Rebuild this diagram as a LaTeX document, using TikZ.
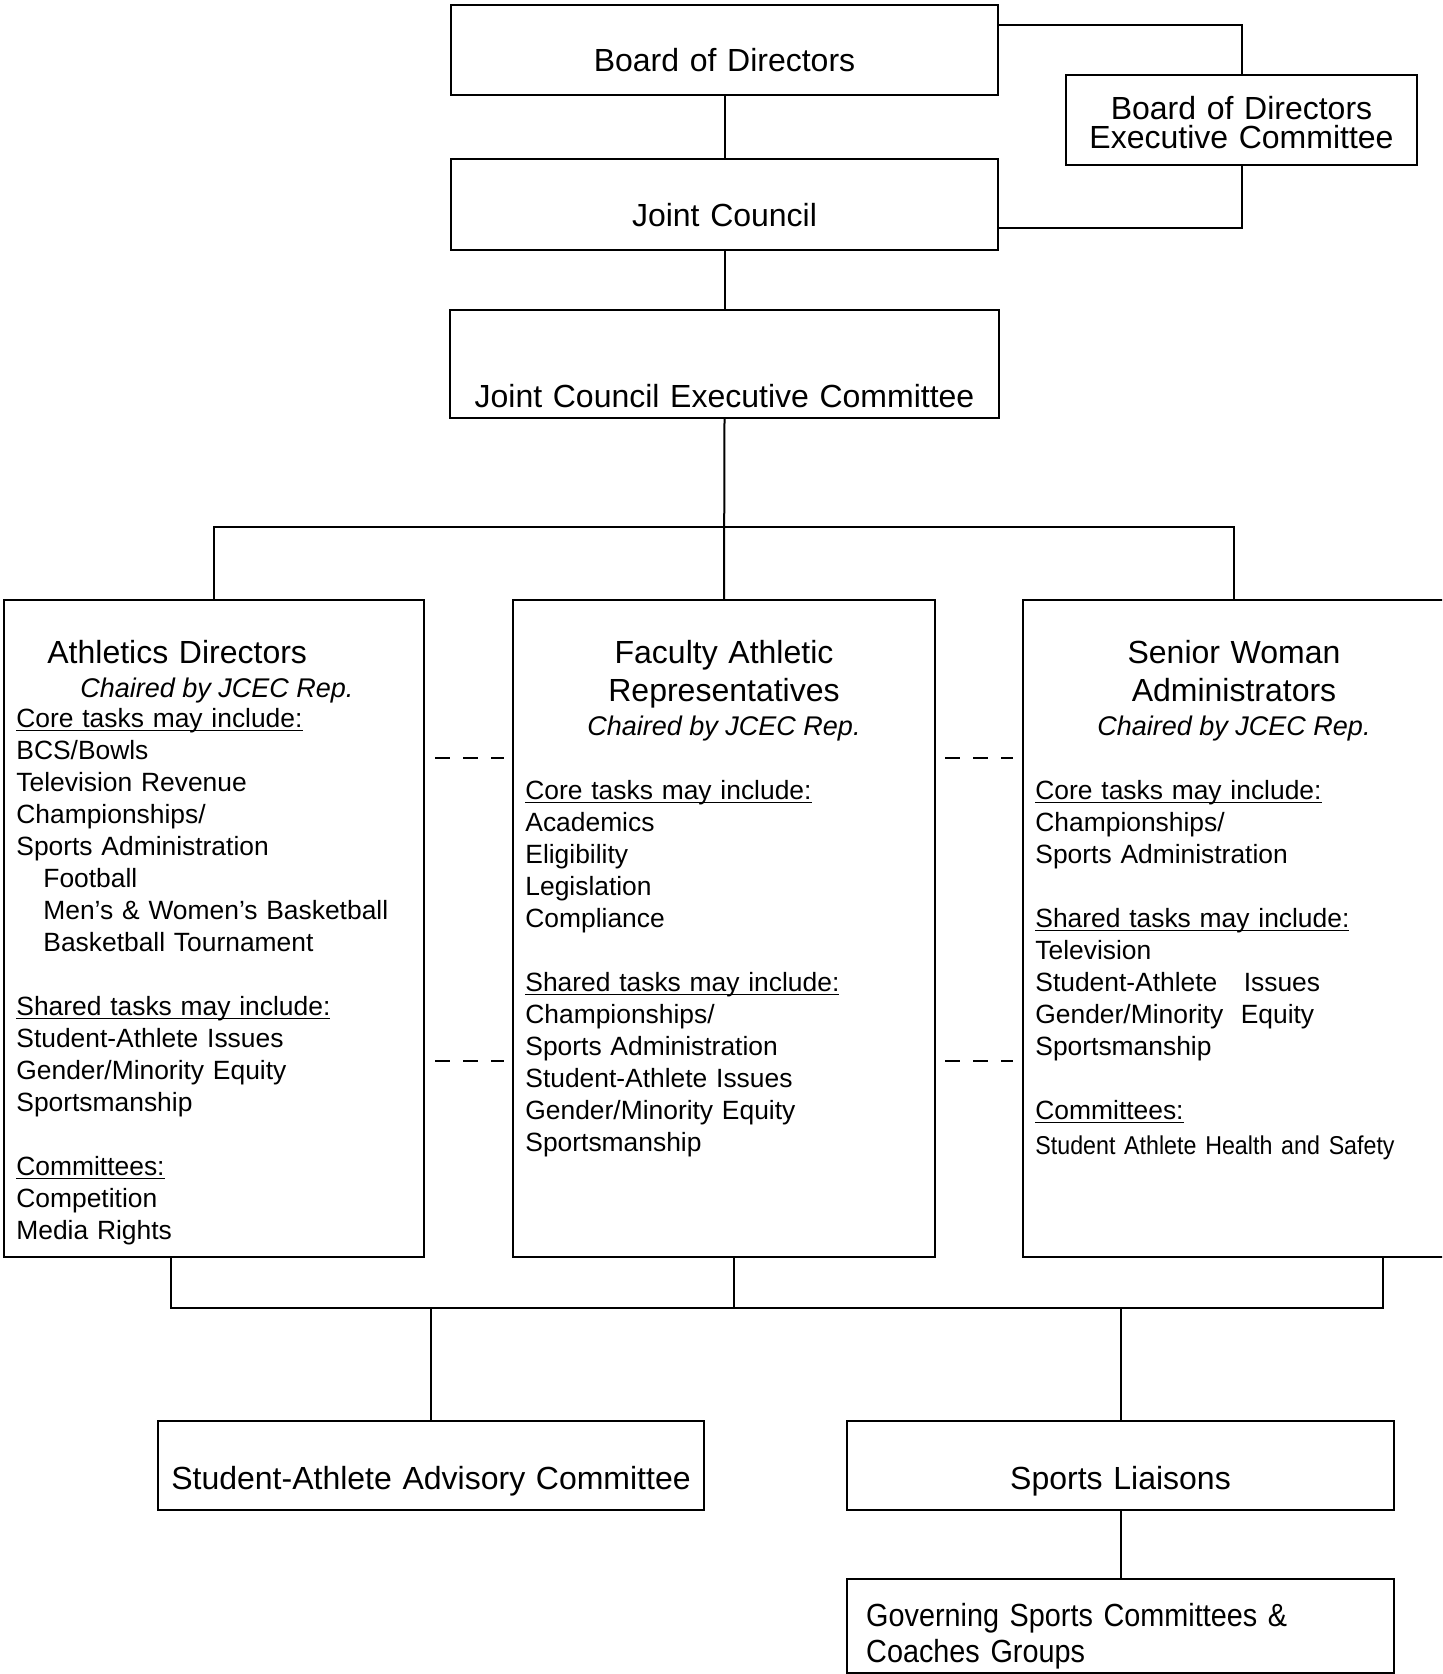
\documentclass[tikz,border=0pt]{standalone}
\usepackage{fontspec}
\setmainfont{Liberation Sans}
\newfontfamily\narrowfont{Liberation Sans}[FakeStretch=0.9]
\newsavebox\ulsave
\newcommand{\ulhead}[1]{\leavevmode\sbox\ulsave{#1}\rlap{\rule[-2pt]{\wd\ulsave}{0.65pt}}\usebox\ulsave}

\begin{document}
\begin{tikzpicture}[x=0.5pt,y=-0.5pt,
        box/.style={draw,line width=1.2pt,inner sep=0pt},
        link/.style={line width=1pt},
        dashlink/.style={line width=1pt,dash pattern=on 7.5pt off 6.5pt},
        title/.style={font=\fontsize{16}{14.5}\selectfont,text width=270pt,align=center,inner sep=0pt,anchor=base},
        head/.style={font=\fontsize{16}{19.2}\selectfont,text width=200pt,align=center,inner sep=0pt,anchor=base},
        chair/.style={font=\fontsize{13.5}{16}\selectfont\itshape,inner sep=0pt,anchor=base},
        tasks/.style={font=\fontsize{13.2}{16}\selectfont,text width=200pt,align=left,inner sep=0pt,anchor=base west}]

    \clip (0,0) rectangle (1442,1674);

    % top of the chart
    \node[box,minimum width=273.5pt,minimum height=45pt] (bod) at (724.5,50) {};
    \node[box,minimum width=175.5pt,minimum height=45pt] (bodec) at (1241.5,120) {};
    \node[box,minimum width=273.5pt,minimum height=45.5pt] (jc) at (724.5,204.5) {};
    \node[box,minimum width=274.5pt,minimum height=54pt] (jcec) at (724.5,364) {};

    % the three groups
    \node[box,minimum width=210pt,minimum height=328.5pt] (ad) at (214,928.5) {};
    \node[box,minimum width=211pt,minimum height=328.5pt] (far) at (724,928.5) {};
    \node[box,minimum width=210.5pt,minimum height=328.5pt] (swa) at (1233.5,928.5) {};

    % bottom row
    \node[box,minimum width=273pt,minimum height=44.5pt] (saac) at (431,1465.5) {};
    \node[box,minimum width=273.5pt,minimum height=44.5pt] (sl) at (1120.5,1465.5) {};
    \node[box,minimum width=273.5pt,minimum height=47pt] (gsc) at (1120.5,1626) {};

    % box texts
    \node[title] (bodtxt) at ([yshift=-11pt]bod.center) {Board of Directors};
    \node[title] (bodectxt) at (bodec.center) {Board of Directors\\Executive Committee};
    \node[title] (jctxt) at ([yshift=-11pt]jc.center) {Joint Council};
    \node[title] (jcectxt) at ([yshift=-22pt]jcec.center) {Joint Council Executive Committee};

    \node[head,anchor=base west,align=left] (adhead) at (47,663) {Athletics Directors};
    \node[chair,anchor=base west] (adchair) at (80,697) {Chaired by JCEC Rep.};
    \node[tasks] (adtasks) at (16,727) {\ulhead{Core tasks may include:}\\
        BCS/Bowls\\
        Television Revenue\\
        Championships/\\
        Sports Administration\\
        \hspace*{13.5pt}Football\\
        \hspace*{13.5pt}Men’s \& Women’s Basketball\\
        \hspace*{13.5pt}Basketball Tournament\\[16pt]
        \ulhead{Shared tasks may include:}\\
        Student-Athlete Issues\\
        Gender/Minority Equity\\
        Sportsmanship\\[16pt]
        \ulhead{Committees:}\\
        Competition\\
        Media Rights};

    \node[head] (farhead) at (724,663) {Faculty Athletic\\Representatives};
    \node[chair] (farchair) at (724,735) {Chaired by JCEC Rep.};
    \node[tasks] (fartasks) at (525,799) {\ulhead{Core tasks may include:}\\
        Academics\\
        Eligibility\\
        Legislation\\
        Compliance\\[16pt]
        \ulhead{Shared tasks may include:}\\
        Championships/\\
        Sports Administration\\
        Student-Athlete Issues\\
        Gender/Minority Equity\\
        Sportsmanship};

    \node[head] (swahead) at (1234,663) {Senior Woman\\Administrators};
    \node[chair] (swachair) at (1234,735) {Chaired by JCEC Rep.};
    \node[tasks] (swatasks) at (1035,799) {\ulhead{Core tasks may include:}\\
        Championships/\\
        Sports Administration\\[16pt]
        \ulhead{Shared tasks may include:}\\
        Television\\
        Student-Athlete\ \ \ Issues\\
        Gender/Minority\ \ Equity\\
        Sportsmanship\\[16pt]
        \ulhead{Committees:}\\[1.6pt]
        {\narrowfont\fontsize{12.9}{16}\selectfont Student Athlete Health and Safety}};

    \node[title] (saactxt) at ([yshift=-11.75pt]saac.center) {Student-Athlete Advisory Committee};
    \node[title] (sltxt) at ([yshift=-11.75pt]sl.center) {Sports Liaisons};
    \node[title,anchor=base west,align=left,font=\narrowfont\fontsize{16}{18}\selectfont] (gsctxt) at ([xshift=10pt]gsc.west) {Governing Sports Committees \&\\Coaches Groups};

    % connectors
    \draw[link] (bod) -- (jc);
    \draw[link] ([yshift=12.5pt]bod.east) -| (bodec.north);
    \draw[link] (bodec.south) |- ([yshift=-11.75pt]jc.east);
    \draw[link] (jc) -- (jcec);
    \coordinate (topbus) at (724,527);
    \draw[link] (jcec.south) -- (far.north);
    \draw[link] (ad.north) |- (topbus) -| (swa.north);
    \coordinate (botbus) at (724,1308);
    \draw[link] ([xshift=-21.5pt]ad.south) |- (botbus) -| ([xshift=74.75pt]swa.south);
    \draw[link] ([xshift=5pt]far.south) |- (botbus);
    \draw[link] (saac.north) |- (botbus);
    \draw[link] (sl.north) |- (botbus);
    \draw[link] (sl) -- (gsc);

    % dashed links between the groups
    \foreach \dy in {85.25pt,-66.25pt}{
        \draw[dashlink] ([shift={(5pt,\dy)}]ad.east) -- ([shift={(-4pt,\dy)}]far.west);
        \draw[dashlink] ([shift={(4.5pt,\dy)}]far.east) -- ([shift={(-4.5pt,\dy)}]swa.west);
    }
\end{tikzpicture}
\end{document}
